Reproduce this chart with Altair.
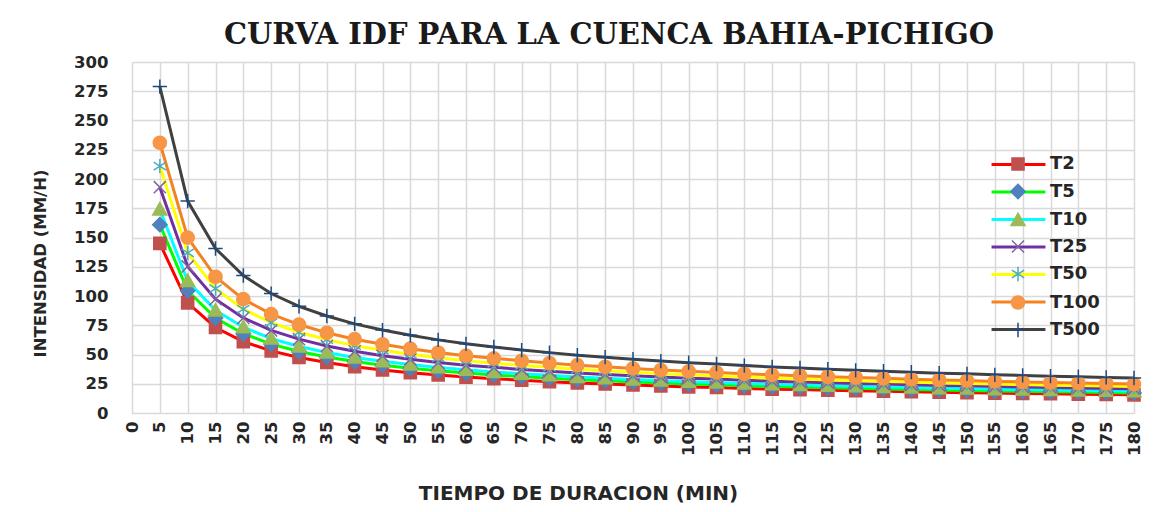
import altair as alt
import pandas as pd

# ---------------- data ----------------
durations = [5, 10, 15, 20, 25, 30, 35, 40, 45, 50, 55, 60, 65, 70, 75, 80, 85, 90,
             95, 100, 105, 110, 115, 120, 125, 130, 135, 140, 145, 150, 155, 160,
             165, 170, 175, 180]

series_names = ["T2", "T5", "T10", "T25", "T50", "T100", "T500"]

t2 = [145, 94.1, 73.1, 61.0, 53.1, 47.4, 43.1, 39.6, 36.8, 34.5, 32.5, 30.7, 29.3, 28.0,
      26.8, 25.7, 24.8, 23.9, 23.1, 22.3, 21.8, 21.0, 20.4, 20.0, 19.4, 19.0, 18.6, 18.1,
      17.7, 17.4, 17.0, 16.7, 16.4, 16.1, 15.8, 15.5]
t5 = [161, 104.5, 81.1, 67.8, 58.9, 52.6, 47.8, 44.0, 40.9, 38.3, 36.1, 34.1, 32.5, 31.1,
      29.8, 28.5, 27.5, 26.6, 25.6, 24.8, 24.2, 23.3, 22.7, 22.2, 21.6, 21.1, 20.6, 20.1,
      19.6, 19.3, 18.8, 18.5, 18.2, 17.9, 17.5, 17.2]
t10 = [174, 112.9, 87.7, 73.3, 63.7, 56.9, 51.7, 47.5, 44.2, 41.4, 39.0, 36.9, 35.1, 33.6,
       32.2, 30.8, 29.8, 28.7, 27.7, 26.8, 26.1, 25.2, 24.5, 24.0, 23.3, 22.8, 22.3, 21.8,
       21.2, 20.9, 20.4, 20.0, 19.7, 19.3, 19.0, 18.6]
t25 = [193, 125.3, 97.3, 81.3, 70.6, 63.1, 57.3, 52.7, 49.0, 45.9, 43.2, 40.9, 39.0, 37.2,
       35.7, 34.2, 33.0, 31.8, 30.7, 29.7, 29.0, 28.0, 27.2, 26.6, 25.9, 25.3, 24.7, 24.1,
       23.5, 23.2, 22.6, 22.2, 21.8, 21.4, 21.0, 20.7]
t50 = [211, 136.9, 106.3, 88.8, 77.2, 69.0, 62.7, 57.6, 53.6, 50.2, 47.3, 44.7, 42.6, 40.7,
       39.0, 37.3, 36.1, 34.8, 33.5, 32.5, 31.7, 30.6, 29.8, 29.1, 28.3, 27.6, 27.0, 26.4,
       25.7, 25.3, 24.7, 24.3, 23.8, 23.4, 23.0, 22.6]
t100 = [231, 149.9, 116.4, 97.3, 84.5, 75.5, 68.6, 63.1, 58.7, 55.0, 51.7, 49.0, 46.7, 44.6,
        42.7, 40.9, 39.5, 38.1, 36.7, 35.6, 34.7, 33.5, 32.6, 31.9, 31.0, 30.3, 29.6, 28.9,
        28.2, 27.7, 27.0, 26.6, 26.1, 25.6, 25.2, 24.7]
t500 = [279, 181.1, 140.6, 117.5, 102.1, 91.2, 82.9, 76.2, 70.9, 66.4, 62.5, 59.1, 56.4, 53.8,
        51.6, 49.4, 47.7, 46.0, 44.4, 43.0, 41.9, 40.5, 39.3, 38.5, 37.4, 36.5, 35.7, 34.9,
        34.0, 33.5, 32.6, 32.1, 31.5, 31.0, 30.4, 29.9]

x_ticks = list(range(0, 181, 5))
y_ticks = list(range(0, 301, 25))

# ---------------- styles ----------------
line_colors = ["#FF0000", "#00FF00", "#00FFFF", "#7030A0", "#FFFF00", "#F58220", "#404040"]
marker_colors = ["#C0504D", "#4F81BD", "#9BBB59", "#8064A2", "#4BACC6", "#F79646", "#1F497D"]
marker_shapes = [
    "M-0.55,-0.55H0.55V0.55H-0.55Z",
    "M0,-0.65L0.65,0L0,0.65L-0.65,0Z",
    "M0,-0.62L0.64,0.5L-0.64,0.5Z",
    "M-0.55,-0.55L0.55,0.55M-0.55,0.55L0.55,-0.55",
    "M0,-0.65L0,0.65M-0.56,-0.36L0.56,0.36M-0.56,0.36L0.56,-0.36",
    "M-0.6,0A0.6,0.6 0 1,0 0.6,0A0.6,0.6 0 1,0 -0.6,0Z",
    "M-0.65,0H0.65M0,-0.65V0.65",
]

values = [t2, t5, t10, t25, t50, t100, t500]
rows = []
for name, vals in zip(series_names, values):
    for d, v in zip(durations, vals):
        rows.append({"serie": name, "duracion": d, "intensidad": v})
df = pd.DataFrame(rows)

FONT = "DejaVu Sans"
TXT = "#262626"

x_enc = alt.X(
    "duracion:Q",
    scale=alt.Scale(domain=[0, 180], nice=False, zero=True),
    axis=alt.Axis(
        values=x_ticks, labelAngle=-90, title="TIEMPO DE DURACION (MIN)",
        labelFont=FONT, labelFontSize=16.5, labelFontWeight="bold", labelColor=TXT,
        labelPadding=8, ticks=False, tickSize=0, domain=False,
        titleFont=FONT, titleFontSize=20, titleFontWeight="bold", titleColor=TXT,
        titleX=446, titleY=80, titleBaseline="middle", titleAlign="center",
        gridColor="#D9D9D9", gridWidth=1.5, labelFlush=False, labelOverlap=False,
    ),
)
y_enc = alt.Y(
    "intensidad:Q",
    scale=alt.Scale(domain=[0, 300], nice=False),
    axis=alt.Axis(
        values=y_ticks, title="INTENSIDAD (MM/H)",
        labelFont=FONT, labelFontSize=16.5, labelFontWeight="bold", labelColor=TXT,
        labelPadding=24, ticks=False, tickSize=0, domain=False,
        titleFont=FONT, titleFontSize=16.5, titleFontWeight="bold", titleColor=TXT,
        titleX=-92, titleY=201, titleBaseline="middle", titleAlign="center", titleAngle=-90,
        gridColor="#D9D9D9", gridWidth=1.5, labelFlush=False, labelOverlap=False,
    ),
)

LEG_X = 874
LEG_Y = 90
SYM = 484  # legend cell of 22 px

# legend of the line segments (no text)
line_legend = alt.Legend(
    orient="none", legendX=LEG_X, legendY=LEG_Y, title=None, padding=0,
    symbolType="M-2.45,0H2.45", symbolSize=SYM, symbolStrokeWidth=3,
    labelExpr="''", labelFontSize=18, rowPadding=5.5,
)
# legend of the markers, carrying the labels
point_legend = alt.Legend(
    orient="none", legendX=LEG_X, legendY=LEG_Y, title=None, padding=0,
    symbolSize=SYM, symbolStrokeWidth=1.5, symbolOpacity=1,
    labelFont=FONT, labelFontSize=18, labelFontWeight="bold", labelColor=TXT,
    labelOffset=20, rowPadding=5.5,
)

lines = alt.Chart(df).mark_line(strokeWidth=3).encode(
    x=x_enc,
    y=y_enc,
    stroke=alt.Stroke("serie:N", scale=alt.Scale(domain=series_names, range=line_colors),
                      legend=line_legend),
)

points = alt.Chart(df).mark_point(filled=True, size=SYM, strokeWidth=1.5, opacity=1).encode(
    x=x_enc,
    y=y_enc,
    fill=alt.Fill("serie:N", scale=alt.Scale(domain=series_names, range=marker_colors),
                  legend=point_legend),
    stroke=alt.Stroke("serie:N", scale=alt.Scale(domain=series_names, range=marker_colors),
                      legend=point_legend),
    shape=alt.Shape("serie:N", scale=alt.Scale(domain=series_names, range=marker_shapes),
                    legend=point_legend),
)

chart = (
    alt.layer(lines, points)
    .resolve_scale(stroke="independent", fill="independent", shape="independent")
    .properties(
        width=1002,
        height=351,
        title=alt.TitleParams(
            "CURVA IDF PARA LA CUENCA BAHIA-PICHIGO",
            font="DejaVu Serif", fontSize=29, fontWeight="bold", color="#1a1a1a",
            anchor="middle", dx=-24, offset=4,
        ),
        autosize=alt.AutoSizeParams(type="none"),
        padding={"left": 124, "top": 54, "right": 20, "bottom": 92},
    )
    .configure_view(stroke=None)
    .configure(background="white")
)

chart.save("out.html", embed_options={"renderer": "svg", "actions": False})
